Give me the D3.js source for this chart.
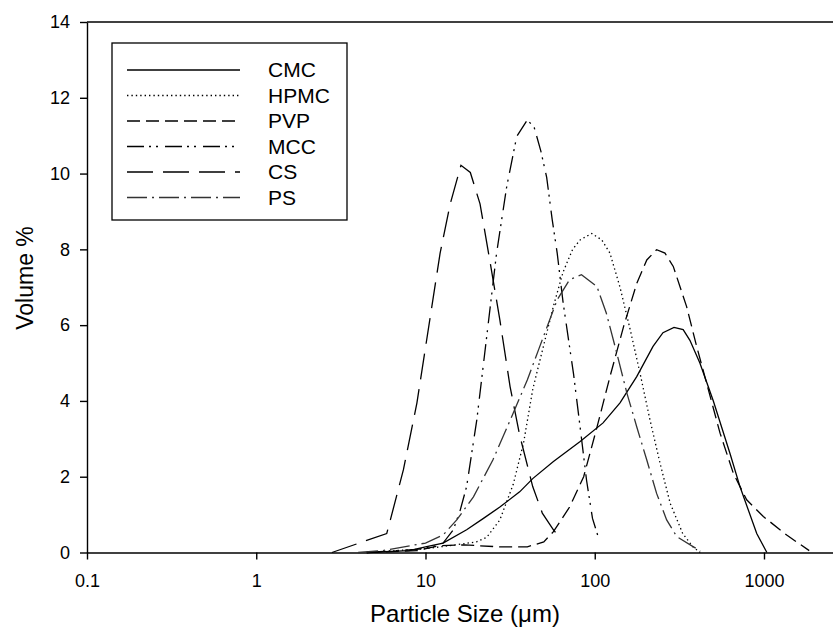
<!DOCTYPE html>
<html>
<head>
<meta charset="utf-8">
<script src="https://cdn.jsdelivr.net/npm/d3@7"></script>
<style>
    body { margin: 0; background: #fff; }
    text { font-family: "Liberation Sans", Arial, sans-serif; fill: #000; }
</style>
</head>
<body>
<script>
//series names, legend order
var seriesNames = ["CMC", "HPMC", "PVP", "MCC", "CS", "PS"];

//particle sizes (um) and volume %
var cmcSize = [4.5, 8, 10, 12.7, 17.5, 22, 27.5, 36, 43, 57, 82, 112, 141, 177, 221, 253, 294, 333, 365, 418, 502, 631, 721, 906, 1040];
var cmcVol  = [0, 0.05, 0.15, 0.25, 0.6, 0.9, 1.2, 1.6, 1.95, 2.4, 2.93, 3.42, 3.95, 4.64, 5.44, 5.8, 5.94, 5.88, 5.6, 5.0, 4.0, 2.6, 1.74, 0.5, 0];

var hpmcSize = [4.5, 10, 15, 20, 23, 27.5, 33, 38, 43, 47, 57, 65, 74, 82, 96, 110, 123, 141, 162, 185, 212, 243, 279, 331, 380, 420];
var hpmcVol  = [0, 0.1, 0.2, 0.28, 0.4, 0.86, 1.8, 2.9, 4.3, 5.0, 6.5, 7.4, 8.0, 8.25, 8.42, 8.25, 7.9, 7.0, 5.88, 4.74, 3.5, 2.36, 1.3, 0.5, 0.15, 0];

var pvpSize = [4.5, 9, 12, 17, 27, 40, 50, 57, 71, 86, 103, 123, 148, 177, 203, 232, 260, 291, 349, 400, 458, 550, 659, 790, 991, 1362, 1850];
var pvpVol  = [0, 0.05, 0.18, 0.2, 0.15, 0.15, 0.28, 0.55, 1.2, 2.0, 3.3, 4.64, 5.96, 7.1, 7.72, 7.99, 7.9, 7.55, 6.49, 5.44, 4.47, 3.15, 2.09, 1.39, 0.95, 0.46, 0.05];

var mccSize = [4.5, 8.9, 11, 12.7, 14.6, 16, 17.5, 20.1, 23, 26.3, 30.2, 34.6, 40, 44, 48, 52, 56, 60, 65, 75, 82, 89.5, 97, 105];
var mccVol  = [0, 0.08, 0.15, 0.25, 0.6, 1.1, 1.74, 3.5, 5.7, 7.9, 9.66, 10.98, 11.42, 11.2, 10.6, 9.9, 8.8, 7.9, 6.6, 4.7, 3.3, 1.9, 0.9, 0.4];

var csSize = [2.8, 5.9, 6.2, 7.4, 8.9, 10.6, 12.2, 14, 16.2, 18.4, 21, 24, 27.5, 31.6, 36, 43, 49, 57, 62];
var csVol  = [0, 0.5, 0.86, 2.18, 3.95, 6.14, 7.9, 9.2, 10.22, 10.03, 9.2, 7.7, 6.14, 4.38, 3.1, 1.74, 1.04, 0.6, 0.4];

var psSize = [4, 5.6, 10, 12.7, 15.3, 19.2, 25, 33, 40, 47, 60, 71, 83.5, 103, 117, 135, 155, 177, 203, 232, 266, 305, 383, 420];
var psVol  = [0, 0.05, 0.25, 0.46, 0.86, 1.47, 2.44, 3.68, 4.56, 5.4, 6.67, 7.2, 7.33, 7.02, 6.32, 5.26, 4.2, 3.32, 2.44, 1.56, 0.86, 0.42, 0.15, 0.05];

//axis ticks
var xTicks = [0.1, 1, 10, 100, 1000];
var xTickLabels = ["0.1", "1", "10", "100", "1000"];
var yTicks = [0, 2, 4, 6, 8, 10, 12, 14];

window.onload = setChart;

function setChart(){
    var width = 833,
        height = 632;

    var svg = d3.select("body")
        .append("svg")
        .attr("width", width)
        .attr("height", height);

    //log scale, the frame runs off the right edge of the figure
    var x = d3.scaleLog()
        .domain([0.1, 2557])
        .range([87, 833]);

    var y = d3.scaleLinear()
        .domain([0, 14])
        .range([552.5, 22]);

    //line styles per series
    var styles = {
        CMC:  {dash: null, color: "#000"},
        HPMC: {dash: "1.4,3", color: "#000"},
        PVP:  {dash: "13,6", color: "#000"},
        MCC:  {dash: "17,5,2,5,2,7", color: "#000"},
        CS:   {dash: "26,10", color: "#000"},
        PS:   {dash: "20,5,2,5", color: "#333"}
    };

    var series = [
        {name: "CMC", size: cmcSize, vol: cmcVol},
        {name: "HPMC", size: hpmcSize, vol: hpmcVol},
        {name: "PVP", size: pvpSize, vol: pvpVol},
        {name: "MCC", size: mccSize, vol: mccVol},
        {name: "CS", size: csSize, vol: csVol},
        {name: "PS", size: psSize, vol: psVol}
    ];

    //top frame line
    svg.append("line")
        .attr("x1", 87).attr("x2", 833)
        .attr("y1", 22).attr("y2", 22)
        .attr("stroke", "#000")
        .attr("stroke-width", 1.4);

    //x axis
    var xAxis = svg.append("g")
        .attr("transform", "translate(0," + 552.5 + ")")
        .call(d3.axisBottom(x)
            .tickValues(xTicks)
            .tickFormat(function(d, i){ return xTickLabels[i]; })
            .tickSizeInner(7)
            .tickSizeOuter(0)
            .tickPadding(15));

    //y axis
    var yAxis = svg.append("g")
        .attr("transform", "translate(87,0)")
        .call(d3.axisLeft(y)
            .tickValues(yTicks)
            .tickSizeInner(7)
            .tickSizeOuter(0)
            .tickPadding(10));

    svg.selectAll(".domain, .tick line")
        .attr("stroke", "#000")
        .attr("stroke-width", 1.4);
    svg.selectAll(".tick text")
        .style("font-family", "'Liberation Sans', Arial, sans-serif")
        .style("font-size", "18px")
        .attr("fill", "#000");

    //curves
    var line = d3.line()
        .x(function(d){ return x(d[0]); })
        .y(function(d){ return y(d[1]); });

    svg.selectAll(".curve")
        .data(series)
        .enter()
        .append("path")
        .attr("class", "curve")
        .attr("d", function(s){
            return line(s.size.map(function(v, i){ return [v, s.vol[i]]; }));
        })
        .attr("fill", "none")
        .attr("stroke", function(s){ return styles[s.name].color; })
        .attr("stroke-width", 1.3)
        .attr("stroke-dasharray", function(s){ return styles[s.name].dash; });

    //axis titles
    svg.append("text")
        .attr("x", 465)
        .attr("y", 622)
        .attr("text-anchor", "middle")
        .style("font-size", "24px")
        .text("Particle Size (μm)");

    svg.append("text")
        .attr("transform", "translate(33,278) rotate(-90)")
        .attr("text-anchor", "middle")
        .style("font-size", "23px")
        .text("Volume %");

    //legend
    var legend = svg.append("g");
    legend.append("rect")
        .attr("x", 112)
        .attr("y", 43)
        .attr("width", 235)
        .attr("height", 177)
        .attr("fill", "#fff")
        .attr("stroke", "#000")
        .attr("stroke-width", 1.3);

    var rows = legend.selectAll(".row")
        .data(seriesNames)
        .enter()
        .append("g")
        .attr("class", "row")
        .attr("transform", function(d, i){ return "translate(0," + (70 + i * 25.5) + ")"; });

    rows.append("line")
        .attr("x1", 127).attr("x2", 240)
        .attr("y1", 0).attr("y2", 0)
        .attr("stroke", function(d){ return styles[d].color; })
        .attr("stroke-width", 1.3)
        .attr("stroke-dasharray", function(d){ return styles[d].dash; });

    rows.append("text")
        .attr("x", 268)
        .attr("y", 0)
        .attr("dy", "0.35em")
        .style("font-size", "21px")
        .text(function(d){ return d; });
}
</script>
</body>
</html>
